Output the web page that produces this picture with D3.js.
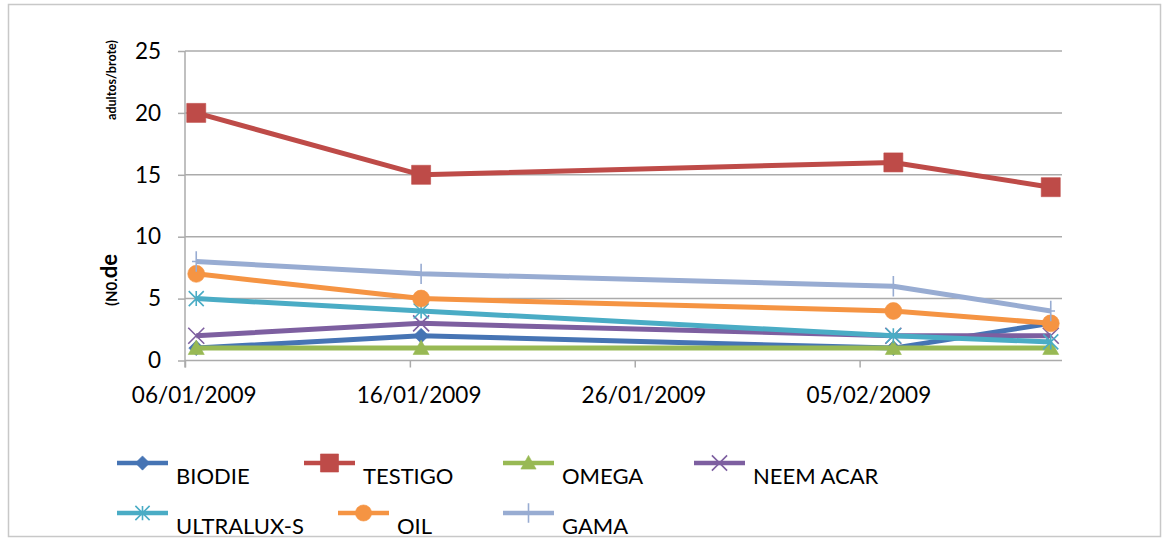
<!DOCTYPE html>
<html>
<head>
<meta charset="utf-8">
<script src="https://cdn.jsdelivr.net/npm/d3@7"></script>
<style>
  html, body { margin: 0; padding: 0; background: #fff; }
  svg { display: block; font-family: Lato, "Open Sans", sans-serif; }
</style>
</head>
<body>
<svg id="chart" width="1169" height="545"></svg>
<script>
// Sampling dates (dd/mm/yyyy)
const dates = ["06/01/2009", "16/01/2009", "06/02/2009", "13/02/2009"];

// Adults per shoot for each treatment
const biodie    = [1, 2, 1, 3];
const testigo   = [20, 15, 16, 14];
const omega     = [1, 1, 1, 1];
const neemAcar  = [2, 3, 2, 2];
const ultraluxS = [5, 4, 2, 1.5];
const oil       = [7, 5, 4, 3];
const gama      = [8, 7, 6, 4];

const seriesNames = ["BIODIE", "TESTIGO", "OMEGA", "NEEM ACAR", "ULTRALUX-S", "OIL", "GAMA"];
const seriesValues = [biodie, testigo, omega, neemAcar, ultraluxS, oil, gama];

// Axis ticks
const yTicks = [0, 5, 10, 15, 20, 25];
const xTickLabels = ["06/01/2009", "16/01/2009", "26/01/2009", "05/02/2009"];
const xAxisStart = "06/01/2009";
const xAxisEnd = "14/02/2009";

const colors  = ["#4674b4", "#be4b48", "#98b954", "#7d5fa0", "#4aacc5", "#f59443", "#98acd2"];
const markers = ["diamond", "square", "triangle", "x", "star", "circle", "plus"];

const parse = d3.utcParse("%d/%m/%Y");
const halfDay = 12 * 3600 * 1000;

const svg = d3.select("#chart");

// Outer chart frame
svg.append("rect")
  .attr("x", 8.5).attr("y", 4.5)
  .attr("width", 1152).attr("height", 532)
  .attr("fill", "#fff").attr("stroke", "#c8c8c8").attr("stroke-width", 1.5);

const plot = { left: 185, right: 1062, top: 51, bottom: 360.5 };

const x = d3.scaleUtc()
  .domain([parse(xAxisStart), parse(xAxisEnd)])
  .range([plot.left, plot.right]);

const y = d3.scaleLinear()
  .domain([0, 25])
  .range([plot.bottom, plot.top]);

const gridColor = "#ababab";

// Horizontal gridlines with outward tick marks
const yAxis = svg.append("g").attr("transform", `translate(${plot.left},0)`)
  .call(d3.axisLeft(y).tickValues(yTicks).tickSize(7).tickPadding(17).tickSizeOuter(0));
yAxis.select(".domain").remove();
yAxis.selectAll(".tick line").attr("stroke", gridColor).attr("stroke-width", 1.5);
yAxis.selectAll(".tick text")
  .attr("font-size", 22.5).attr("fill", "#000").attr("font-family", "Lato, sans-serif");

svg.append("g").selectAll("line").data(yTicks).join("line")
  .attr("x1", plot.left).attr("x2", plot.right)
  .attr("y1", d => y(d)).attr("y2", d => y(d))
  .attr("stroke", gridColor).attr("stroke-width", 1.5);

// Vertical axis line
svg.append("line")
  .attr("x1", plot.left).attr("x2", plot.left)
  .attr("y1", plot.top).attr("y2", plot.bottom + 7)
  .attr("stroke", gridColor).attr("stroke-width", 1.5);

// Date axis: tick marks at day boundaries, labels centred on the day
const xTickDates = xTickLabels.map(parse);
const xAxis = svg.append("g").attr("transform", `translate(0,${plot.bottom})`)
  .call(d3.axisBottom(x).tickValues(xTickDates).tickSize(7).tickFormat(() => "").tickSizeOuter(0));
xAxis.select(".domain").remove();
xAxis.selectAll(".tick line").attr("stroke", gridColor).attr("stroke-width", 1.5);

svg.append("g").selectAll("text").data(xTickLabels).join("text")
  .attr("x", d => x(new Date(parse(d).getTime() + halfDay)) - 2)
  .attr("y", 403)
  .attr("text-anchor", "middle")
  .attr("font-size", 22.5)
  .attr("fill", "#000")
  .text(d => d);

// Y axis title (two pieces, rotated)
svg.append("text")
  .attr("transform", "translate(116,80) rotate(-90)")
  .attr("text-anchor", "middle")
  .attr("font-size", 12.5).attr("font-weight", "bold").attr("fill", "#000")
  .text("adultos/brote)");

const t2 = svg.append("text")
  .attr("transform", "translate(117,280) rotate(-90)")
  .attr("text-anchor", "middle")
  .attr("font-weight", "bold").attr("fill", "#000");
t2.append("tspan").attr("font-size", 15).text("(N0.");
t2.append("tspan").attr("font-size", 22).text("de");

// Marker drawing
function markerPath(type, s) {
  const h = s / 2;
  switch (type) {
    case "square":   return `M${-h},${-h}H${h}V${h}H${-h}Z`;
    case "diamond":  return `M0,${-h}L${h},0L0,${h}L${-h},0Z`;
    case "triangle": return `M0,${-h}L${h},${h * 0.8}L${-h},${h * 0.8}Z`;
    case "circle":   return d3.symbol(d3.symbolCircle, Math.PI * h * h)();
    case "x":        return `M${-h},${-h}L${h},${h}M${h},${-h}L${-h},${h}`;
    case "star":     return `M${-h},${-h}L${h},${h}M${h},${-h}L${-h},${h}M0,${-h}V${h}`;
    case "plus":     return `M0,${-h * 1.2}V${h * 1.2}M${-h * 0.5},0H${h * 0.5}`;
  }
}
const markerSize = { square: 19, diamond: 15, triangle: 16, circle: 17, x: 16, star: 15, plus: 17 };
const filled = t => ["square", "diamond", "triangle", "circle"].includes(t);

function drawMarker(g, type, color, cx, cy, scale = 1) {
  const p = g.append("path")
    .attr("transform", `translate(${cx},${cy})`)
    .attr("d", markerPath(type, markerSize[type] * scale));
  if (filled(type)) {
    p.attr("fill", color).attr("stroke", color).attr("stroke-width", 1)
     .attr("stroke-opacity", 0.6);
  } else {
    p.attr("fill", "none").attr("stroke", color).attr("stroke-width", 1.6);
  }
}

const line = d3.line()
  .x((d, i) => x(new Date(parse(dates[i]).getTime() + halfDay)))
  .y(d => y(d));

const seriesG = svg.append("g");
seriesValues.forEach((vals, k) => {
  const g = seriesG.append("g");
  g.append("path")
    .attr("d", line(vals))
    .attr("fill", "none")
    .attr("stroke", colors[k])
    .attr("stroke-width", 5)
    .attr("stroke-linejoin", "round");
  vals.forEach((v, i) => {
    drawMarker(g, markers[k], colors[k], x(new Date(parse(dates[i]).getTime() + halfDay)), y(v));
  });
});

// Legend
const legendSlots = [[117, 463], [304, 463], [503, 463], [694, 463], [117, 513], [338, 513], [503, 513]];
const legend = svg.append("g");
seriesNames.forEach((name, k) => {
  const [lx, ly] = legendSlots[k];
  const g = legend.append("g");
  g.append("line")
    .attr("x1", lx).attr("x2", lx + 51)
    .attr("y1", ly).attr("y2", ly)
    .attr("stroke", colors[k]).attr("stroke-width", 4.5);
  drawMarker(g, markers[k], colors[k], lx + 25.5, ly, 0.95);
  g.append("text")
    .attr("x", lx + 59).attr("y", ly + 21)
    .attr("font-size", 22).attr("fill", "#000")
    .text(name);
});
</script>
</body>
</html>
